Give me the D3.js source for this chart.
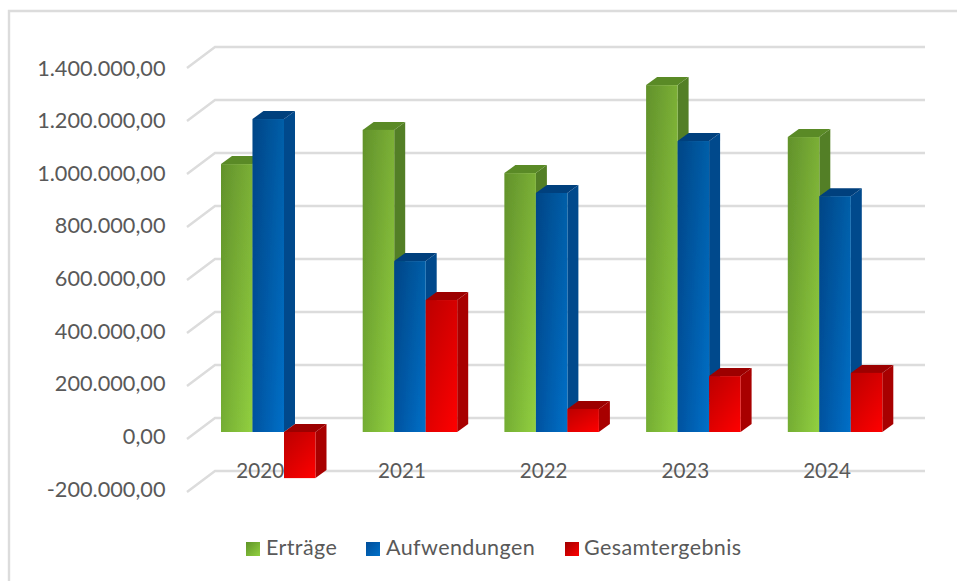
<!DOCTYPE html>
<html><head><meta charset="utf-8">
<script src="https://cdn.jsdelivr.net/npm/d3@7"></script>
<style>html,body{margin:0;padding:0;background:#fff}svg{display:block}text{font-family:Lato,"Open Sans",sans-serif;fill:#595959}</style>
</head><body><svg id="c" width="957" height="581"></svg>
<script>
const categories=["2020","2021","2022","2023","2024"];
const ertraege=[1011000,1140000,977000,1309000,1113000];
const aufwendungen=[1181000,645000,902000,1098000,890000];
const gesamtergebnis=[-174000,498000,87000,211000,223000];
const seriesNames=["Erträge","Aufwendungen","Gesamtergebnis"];
const tickValues=[-200000,0,200000,400000,600000,800000,1000000,1200000,1400000];
const palette=[
 {l:"#74ad33",r:"#92d040",top:"#5a8a27",side:"#537f25",lg0:"#5f9428",lg1:"#92d040"},
 {l:"#00529f",r:"#0070c8",top:"#003f7d",side:"#024a8c",lg0:"#004d99",lg1:"#0070c8"},
 {l:"#e00000",r:"#ff0000",top:"#9c0000",side:"#a80000",lg0:"#a00000",lg1:"#ff0000"}];
const svg=d3.select("#c");
svg.append("path").attr("d","M957,11H9V581").attr("fill","none").attr("stroke","#dcdcdc").attr("stroke-width",2.4);
const defs=svg.append("defs");
const soft=defs.append("filter").attr("id","soft").attr("x","-2%").attr("y","-2%").attr("width","104%").attr("height","104%");
soft.append("feGaussianBlur").attr("stdDeviation",0.45);
const shade=defs.append("linearGradient").attr("id","shade").attr("x1",0).attr("x2",0).attr("y1",0).attr("y2",1);
shade.append("stop").attr("offset","0%").attr("stop-color","#000").attr("stop-opacity",0.16);
shade.append("stop").attr("offset","100%").attr("stop-color","#000").attr("stop-opacity",0);
palette.forEach((p,i)=>{
 const g=defs.append("linearGradient").attr("id","f"+i).attr("x1",0).attr("x2",1).attr("y1",0).attr("y2",0);
 g.append("stop").attr("offset","0%").attr("stop-color",p.l);
 g.append("stop").attr("offset","100%").attr("stop-color",p.r);
 const h=defs.append("linearGradient").attr("id","k"+i).attr("x1",0).attr("x2",1).attr("y1",0).attr("y2",1);
 h.append("stop").attr("offset","0%").attr("stop-color",p.lg0);
 h.append("stop").attr("offset","100%").attr("stop-color",p.lg1);
});
const y=d3.scaleLinear().domain([-200000,1400000]).range([471,47]);
const yLabel=d3.scaleLinear().domain([-200000,1400000]).range([489,68]);
const x=d3.scaleBand().domain(categories).range([197.4,905.9]);
const inner=d3.scaleBand().domain([0,1,2]).range([0,94.5]);
const wallL=215,wallR=925,floorDx=-28,floorDy=21;
const barDy=14,depthX=11,depthY=8;
const grid=svg.append("g").attr("fill","none").attr("stroke","#dcdcdc").attr("stroke-width",2.4).attr("filter","url(#soft)");
tickValues.forEach(v=>{
 grid.append("path").attr("d",`M${wallL+floorDx},${y(v)+floorDy}L${wallL},${y(v)}L${wallR},${y(v)}`);
});
const tickFmt=v=>{const s=Math.abs(v).toString().replace(/\B(?=(\d{3})+$)/g,".");return (v<0?"-":"")+s+",00";};
svg.append("g").selectAll("text").data(tickValues).join("text")
 .attr("x",165.5).attr("y",v=>yLabel(v)+7.5).attr("text-anchor","end").attr("font-size",21.7).text(tickFmt);
const groupLeft=c=>x(c)+(x.bandwidth()-inner.range()[1])/2;
const all=[ertraege,aufwendungen,gesamtergebnis];
svg.append("g").selectAll("text").data(categories).join("text")
 .attr("x",c=>x(c)+x.bandwidth()/2-8).attr("y",y(-200000)+7).attr("text-anchor","middle").attr("font-size",20.6).text(c=>c);
const bars=svg.append("g").attr("filter","url(#soft)");
categories.forEach((c,ci)=>{
 all.forEach((arr,si)=>{
  const v=arr[ci],p=palette[si];
  const bw=inner.bandwidth(),x0=groupLeft(c)+inner(si),x1=x0+bw;
  const yTop=y(Math.max(v,0))+barDy,yBot=y(Math.min(v,0))+barDy;
  const g=bars.append("g");
  g.append("path").attr("fill",p.side).attr("d",`M${x1},${yTop}L${x1+depthX},${yTop-depthY}L${x1+depthX},${yBot-depthY}L${x1},${yBot}Z`);
  g.append("path").attr("fill",p.top).attr("d",`M${x0},${yTop}L${x0+depthX},${yTop-depthY}L${x1+depthX},${yTop-depthY}L${x1},${yTop}Z`);
  g.append("rect").attr("x",x0).attr("y",yTop).attr("width",bw).attr("height",yBot-yTop).attr("fill",`url(#f${si})`);
  g.append("rect").attr("x",x0).attr("y",yTop).attr("width",bw).attr("height",yBot-yTop).attr("fill","url(#shade)");
 });
});
const legendSwatchX=[246,366,565],legendTextX=[266,386,584];
const lg=svg.append("g");
seriesNames.forEach((n,i)=>{
 lg.append("rect").attr("x",legendSwatchX[i]).attr("y",542).attr("width",14).attr("height",14).attr("fill",`url(#k${i})`);
 lg.append("text").attr("x",legendTextX[i]).attr("y",555).attr("font-size",21.5).attr("letter-spacing",0.4).text(n);
});
</script></body></html>
